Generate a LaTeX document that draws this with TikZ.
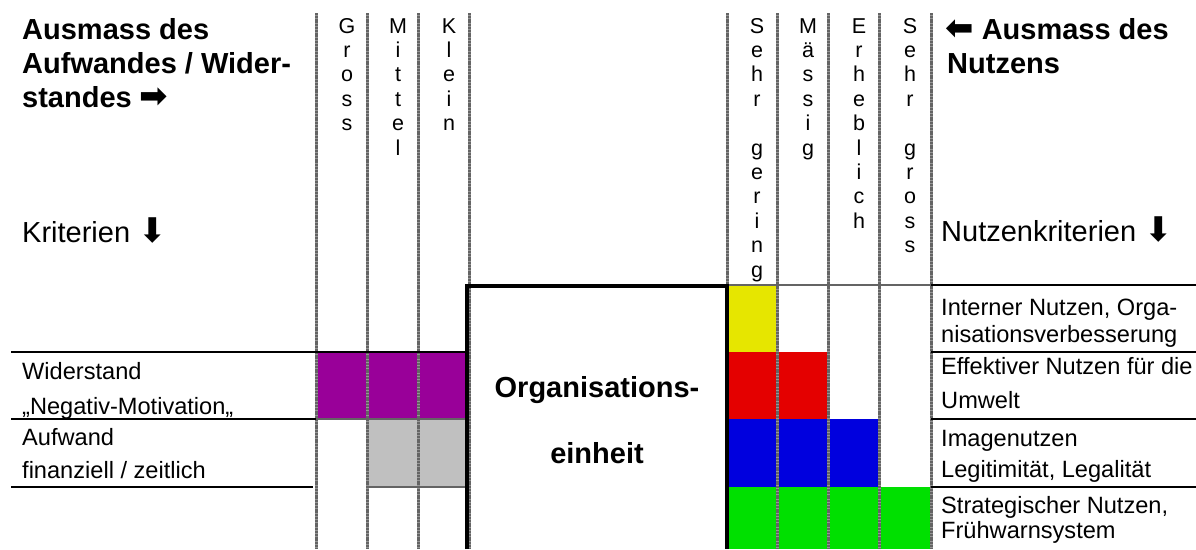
\documentclass[tikz,border=0pt]{standalone}
\usepackage{fontspec}
\setmainfont{Liberation Sans}
\newfontfamily\symfont{DejaVu Sans}
\definecolor{cpurple}{RGB}{153,0,153}
\definecolor{cgray}{RGB}{192,192,192}
\definecolor{cyellow}{RGB}{230,230,0}
\definecolor{cred}{RGB}{228,0,0}
\definecolor{cblue}{RGB}{0,0,222}
\definecolor{cgreen}{RGB}{0,224,0}
\definecolor{dashgray}{RGB}{100,100,100}
\definecolor{dashlight}{RGB}{150,150,150}
\begin{document}
\begin{tikzpicture}[x=1pt,y=-1pt,
  colbase/.style={draw=dashlight,line width=3pt},
  colline/.style={draw=dashgray,line width=3pt,dash pattern=on 2pt off 0.8pt},
  rule/.style={draw=black,line width=1.1pt},
  grule/.style={draw=dashgray,line width=1.4pt},
  heavy/.style={draw=black,line width=3.4pt},
  head/.style={inner sep=0pt,anchor=base west,font=\fontsize{29}{34}\selectfont\bfseries},
  headr/.style={inner sep=0pt,anchor=base west,font=\fontsize{29}{34}\selectfont},
  celltext/.style={inner sep=0pt,anchor=base west,font=\fontsize{23.6}{27}\selectfont},
  letter/.style={inner sep=0pt,anchor=base,font=\fontsize{21.5}{24}\selectfont},
  org/.style={inner sep=0pt,anchor=base,font=\fontsize{29}{33}\selectfont\bfseries}]
\useasboundingbox (0,0) rectangle (1196,549);

% coloured cells
\fill[cpurple] (316,352) rectangle (469,419);
\fill[cgray] (367,419) rectangle (469,487);
\fill[cyellow] (727,286) rectangle (777,352);
\fill[cred] (727,352) rectangle (828,419);
\fill[cblue] (727,419) rectangle (879,487);
\fill[cgreen] (727,487) rectangle (931,549);

% column coordinates
\foreach \n/\x in {L0/316,L1/367,L2/418,L3/469,R0/727,R1/777,R2/828,R3/879,R4/931}{
  \coordinate (\n t) at (\x,13);
  \coordinate (\n b) at (\x,549);
}
\foreach \n in {L0,L1,L2,L3,R0,R1,R2,R3,R4}{
  \draw[colbase] (\n t) -- (\n b);
  \draw[colline] (\n t) -- (\n b);
}

% horizontal rules
\coordinate (a1) at (11,352); \coordinate (a2) at (469,352);
\coordinate (b1) at (11,419); \coordinate (b2) at (316,419); \coordinate (b3) at (469,419);
\coordinate (c1) at (11,487); \coordinate (c2) at (313,487);
\coordinate (c3) at (367,487); \coordinate (c4) at (469,487);
\draw[rule] (a1) -- (a2);
\draw[rule] (b1) -- (b2);
\draw[grule] (b2) -- (b3);
\draw[rule] (c1) -- (c2);
\draw[grule] (c3) -- (c4);
\coordinate (r0a) at (727,285); \coordinate (r0b) at (931,285); \coordinate (r0c) at (1196,285);
\draw[grule] (r0a) -- (r0b);
\draw[rule] (r0b) -- (r0c);
\foreach \y in {352,419,487}{
  \draw[rule] (931,\y) -- (1196,\y);
}

% organisation box
\coordinate (o1) at (467,549); \coordinate (o2) at (467,286);
\coordinate (o3) at (727,286); \coordinate (o4) at (727,549);
\draw[heavy,line join=miter] (o1) -- (o2) -- (o3) -- (o4);
\node[org] (org1) at (597,397) {Organisations-};
\node[org] (org2) at (597,463) {einheit};

% left headings
\node[head] (h1) at (22,39) {Ausmass des};
\node[head] (h2) at (22,73) {Aufwandes / Wider-};
\node[head] (h3) at (22,107) {standes {\symfont\fontsize{34}{30}\selectfont ➡}};
\node[headr] (h4) at (22,242) {Kriterien {\symfont\fontsize{34}{30}\selectfont ⬇}};

% right headings
\node[head] (h5) at (945,39) {{\symfont\fontsize{34}{30}\selectfont ⬅} Ausmass des};
\node[head] (h6) at (947,73) {Nutzens};
\node[headr] (h7) at (941,241) {Nutzenkriterien {\symfont\fontsize{34}{30}\selectfont ⬇}};

% vertical column labels
\foreach \c/\i in {G/0,r/1,o/2,s/3,s/4}{\node[letter] (gr\i) at (347,33+24.4*\i) {\c};}
\foreach \c/\i in {M/0,i/1,t/2,t/3,e/4,l/5}{\node[letter] (mi\i) at (398,33+24.4*\i) {\c};}
\foreach \c/\i in {K/0,l/1,e/2,i/3,n/4}{\node[letter] (kl\i) at (449,33+24.4*\i) {\c};}
\foreach \c/\i in {S/0,e/1,h/2,r/3,g/5,e/6,r/7,i/8,n/9,g/10}{\node[letter] (sg\i) at (757,33+24.4*\i) {\c};}
\foreach \c/\i in {M/0,ä/1,s/2,s/3,i/4,g/5}{\node[letter] (ms\i) at (808,33+24.4*\i) {\c};}
\foreach \c/\i in {E/0,r/1,h/2,e/3,b/4,l/5,i/6,c/7,h/8}{\node[letter] (er\i) at (859,33+24.4*\i) {\c};}
\foreach \c/\i in {S/0,e/1,h/2,r/3,g/5,r/6,o/7,s/8,s/9}{\node[letter] (sr\i) at (910,33+24.4*\i) {\c};}

% left row texts
\node[celltext] (t1) at (22,379) {Widerstand};
\node[celltext] (t2) at (22,414) {„Negativ-Motivation„};
\node[celltext] (t3) at (22,445) {Aufwand};
\node[celltext] (t4) at (22,478) {finanziell / zeitlich};

% right row texts
\node[celltext] (u1) at (941,315) {Interner Nutzen, Orga-};
\node[celltext] (u2) at (941,342) {nisationsverbesserung};
\node[celltext] (u3) at (941,374) {Effektiver Nutzen für die};
\node[celltext] (u4) at (941,408) {Umwelt};
\node[celltext] (u5) at (941,446) {Imagenutzen};
\node[celltext] (u6) at (941,477) {Legitimität, Legalität};
\node[celltext] (u7) at (941,513) {Strategischer Nutzen,};
\node[celltext] (u8) at (941,538) {Frühwarnsystem};
\end{tikzpicture}
\end{document}
